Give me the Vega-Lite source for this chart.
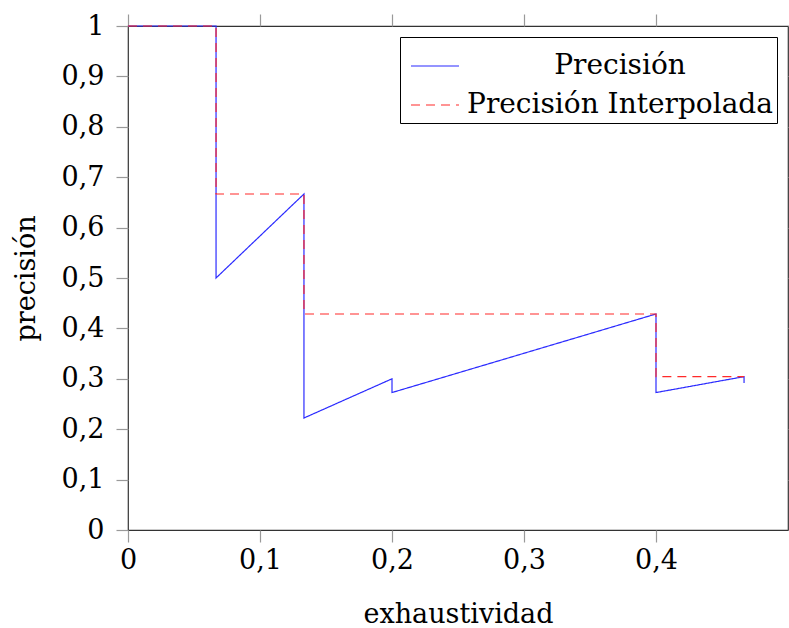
{
  "$schema": "https://vega.github.io/schema/vega-lite/v6.json",
  "width": 660,
  "height": 504,
  "autosize": {"type": "none"},
  "padding": {"left": 128, "top": 26, "right": 1, "bottom": 98},
  "background": "white",
  "config": {
    "view": {"stroke": "#333", "strokeWidth": 1.2},
    "font": "DejaVu Serif"
  },
  "data": {
    "values": [
      {"serie": "Precisión", "r": 0, "p": 1},
      {"serie": "Precisión", "r": 0.0667, "p": 1},
      {"serie": "Precisión", "r": 0.0667, "p": 0.5},
      {"serie": "Precisión", "r": 0.1333, "p": 0.6667},
      {"serie": "Precisión", "r": 0.1333, "p": 0.2222},
      {"serie": "Precisión", "r": 0.2, "p": 0.3},
      {"serie": "Precisión", "r": 0.2, "p": 0.2727},
      {"serie": "Precisión", "r": 0.4, "p": 0.4286},
      {"serie": "Precisión", "r": 0.4, "p": 0.2727},
      {"serie": "Precisión", "r": 0.4667, "p": 0.3043},
      {"serie": "Precisión", "r": 0.4667, "p": 0.2917},
      {"serie": "Precisión Interpolada", "r": 0, "p": 1},
      {"serie": "Precisión Interpolada", "r": 0.0667, "p": 1},
      {"serie": "Precisión Interpolada", "r": 0.0667, "p": 0.6667},
      {"serie": "Precisión Interpolada", "r": 0.1333, "p": 0.6667},
      {"serie": "Precisión Interpolada", "r": 0.1333, "p": 0.4286},
      {"serie": "Precisión Interpolada", "r": 0.4, "p": 0.4286},
      {"serie": "Precisión Interpolada", "r": 0.4, "p": 0.3043},
      {"serie": "Precisión Interpolada", "r": 0.4667, "p": 0.3043}
    ]
  },
  "layer": [
    {
      "mark": {"type": "line", "strokeWidth": 1.2},
      "encoding": {
        "x": {
          "field": "r", "type": "quantitative",
          "scale": {"domain": [0, 0.5], "nice": false, "zero": false},
          "axis": {
            "values": [0, 0.1, 0.2, 0.3, 0.4],
            "labelExpr": "replace(format(datum.value, '~g'), '.', ',')",
            "grid": false, "domain": false, "labelFlush": false,
            "tickSize": 12, "tickColor": "#999", "tickWidth": 1.2,
            "labelFontSize": 27, "labelColor": "#000", "labelPadding": 5,
            "title": "exhaustividad", "titleFontSize": 27, "titleFontWeight": "normal",
            "titleColor": "#000", "titlePadding": 28
          }
        },
        "y": {
          "field": "p", "type": "quantitative",
          "scale": {"domain": [0, 1], "nice": false},
          "axis": {
            "values": [0, 0.1, 0.2, 0.3, 0.4, 0.5, 0.6, 0.7, 0.8, 0.9, 1],
            "labelExpr": "replace(format(datum.value, '~g'), '.', ',')",
            "grid": false, "domain": false, "labelFlush": false,
            "tickSize": 12, "tickColor": "#999", "tickWidth": 1.2,
            "labelFontSize": 27, "labelColor": "#000", "labelPadding": 12,
            "title": "precisión", "titleFontSize": 27, "titleFontWeight": "normal",
            "titleColor": "#000", "titlePadding": 21
          }
        },
        "color": {
          "field": "serie", "type": "nominal",
          "scale": {"domain": ["Precisión", "Precisión Interpolada"], "range": ["#2a2aff", "#ff2a2a"]},
          "legend": {
            "title": null, "orient": "top-right", "offset": 11,
            "strokeColor": "#000", "fillColor": "white", "padding": 4,
            "symbolType": "stroke", "symbolSize": 2304, "symbolStrokeWidth": 1.2, "symbolOffset": 6,
            "labelLimit": 500, "labelAlign": "center", "labelOffset": 160,
            "labelExpr": "datum.label + '\u00a0'",
            "labelFontSize": 28, "labelColor": "#000", "rowPadding": -6
          }
        },
        "strokeDash": {
          "field": "serie", "type": "nominal",
          "scale": {"domain": ["Precisión", "Precisión Interpolada"], "range": [[1, 0], [9, 6]]},
          "legend": {
            "title": null, "orient": "top-right", "offset": 11,
            "strokeColor": "#000", "fillColor": "white", "padding": 4,
            "symbolType": "stroke", "symbolSize": 2304, "symbolStrokeWidth": 1.2, "symbolOffset": 6,
            "labelLimit": 500, "labelAlign": "center", "labelOffset": 160,
            "labelExpr": "datum.label + '\u00a0'",
            "labelFontSize": 28, "labelColor": "#000", "rowPadding": -6
          }
        },
        "order": {"value": null}
      }
    },
    {
      "mark": {"type": "point", "opacity": 0},
      "encoding": {
        "x": {
          "field": "r", "type": "quantitative",
          "axis": {
            "orient": "top", "values": [0, 0.1, 0.2, 0.3, 0.4], "labels": false,
            "grid": false, "domain": false, "tickSize": 12, "tickColor": "#999", "tickWidth": 1.2, "title": null
          }
        },
        "y": {
          "field": "p", "type": "quantitative",
          "axis": {
            "orient": "right", "values": [0, 0.1, 0.2, 0.3, 0.4, 0.5, 0.6, 0.7, 0.8, 0.9, 1], "labels": false,
            "grid": false, "domain": false, "tickSize": 12, "tickColor": "#999", "tickWidth": 1.2, "title": null
          }
        }
      }
    }
  ],
  "resolve": {"axis": {"x": "independent", "y": "independent"}}
}
